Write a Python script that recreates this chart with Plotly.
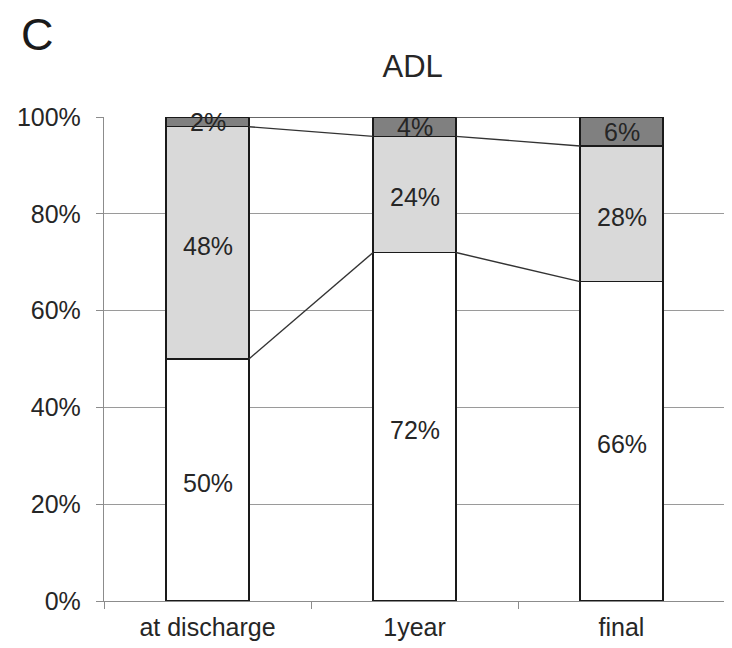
import plotly.graph_objects as go

categories = ["at discharge", "1year", "final"]
white_vals = [50, 72, 66]
light_vals = [48, 24, 28]
dark_vals = [2, 4, 6]
y_ticks = [0, 20, 40, 60, 80, 100]
y_ticklabels = ["0%", "20%", "40%", "60%", "80%", "100%"]

FONT = "Liberation Sans, Arial, sans-serif"
TXT = "#262626"
BAR_W = 0.4
xs = list(range(len(categories)))

fig = go.Figure()
series = [(white_vals, "#ffffff"), (light_vals, "#d9d9d9"), (dark_vals, "#808080")]
for vals, col in series:
    fig.add_trace(go.Bar(x=xs, y=vals, width=BAR_W, marker=dict(color=col, line=dict(color="#1a1a1a", width=1.6)),
                         showlegend=False, hoverinfo="skip"))

# series lines connecting stacked tops
cum = [0] * len(categories)
tops = []
for vals, _ in series:
    cum = [c + v for c, v in zip(cum, vals)]
    tops.append(list(cum))
for t in tops:
    lx, ly = [], []
    for i in range(len(categories) - 1):
        lx += [xs[i] + BAR_W / 2, xs[i + 1] - BAR_W / 2, None]
        ly += [t[i], t[i + 1], None]
    fig.add_trace(go.Scatter(x=lx, y=ly, mode="lines", line=dict(color="#333333", width=1.4),
                             showlegend=False, hoverinfo="skip"))

# data labels (segment midpoints)
annotations = []
base = [0] * len(categories)
for k, (vals, _) in enumerate(series):
    for i, v in enumerate(vals):
        annotations.append(dict(x=xs[i], y=base[i] + v / 2, xref="x", yref="y", text=f"{v}%",
                                showarrow=False, yshift=-3 if k < 2 else 0,
                                font=dict(family=FONT, size=25, color=TXT)))
    base = [b + v for b, v in zip(base, vals)]

annotations.append(dict(text="C", xref="paper", yref="paper", x=-0.137, y=1.171, xanchor="left",
                        yanchor="middle", showarrow=False, font=dict(family=FONT, size=45, color="#1a1a1a")))

# dummy trace for category label axis
fig.add_trace(go.Scatter(x=xs, y=[0] * 3, xaxis="x2", mode="markers", marker=dict(opacity=0),
                         showlegend=False, hoverinfo="skip"))

fig.update_layout(
    barmode="stack",
    width=724, height=640,
    margin=dict(l=96, r=7, t=109, b=47),
    paper_bgcolor="white", plot_bgcolor="white",
    font=dict(family=FONT, size=25, color=TXT),
    title=dict(text="ADL", x=0.559, xanchor="center", y=0.909, yanchor="middle",
               font=dict(family=FONT, size=31, color=TXT)),
    xaxis=dict(range=[-0.5, 2.5], tickvals=[-0.5, 0.5, 1.5, 2.5], showticklabels=False,
               ticks="outside", ticklen=7, tickcolor="#8c8c8c", tickwidth=1.3,
               showline=True, linecolor="#8c8c8c", linewidth=1.3, showgrid=False, zeroline=False),
    xaxis2=dict(range=[-0.5, 2.5], overlaying="x", side="bottom", tickvals=xs, ticktext=categories,
                ticks="outside", ticklen=4, tickcolor="rgba(0,0,0,0)", showline=False,
                showgrid=False, zeroline=False, tickfont=dict(family=FONT, size=25, color=TXT)),
    yaxis=dict(range=[0, 100], tickvals=y_ticks, ticktext=y_ticklabels, ticks="outside", ticklen=7,
               tickcolor="#8c8c8c", tickwidth=1.3, showline=True, linecolor="#8c8c8c", linewidth=1.3,
               showgrid=True, gridcolor="#9a9a9a", gridwidth=1.3, zeroline=False, ticklabelstandoff=10,
               tickfont=dict(family=FONT, size=25, color=TXT)),
    annotations=annotations,
)

fig.write_html("out.html")
